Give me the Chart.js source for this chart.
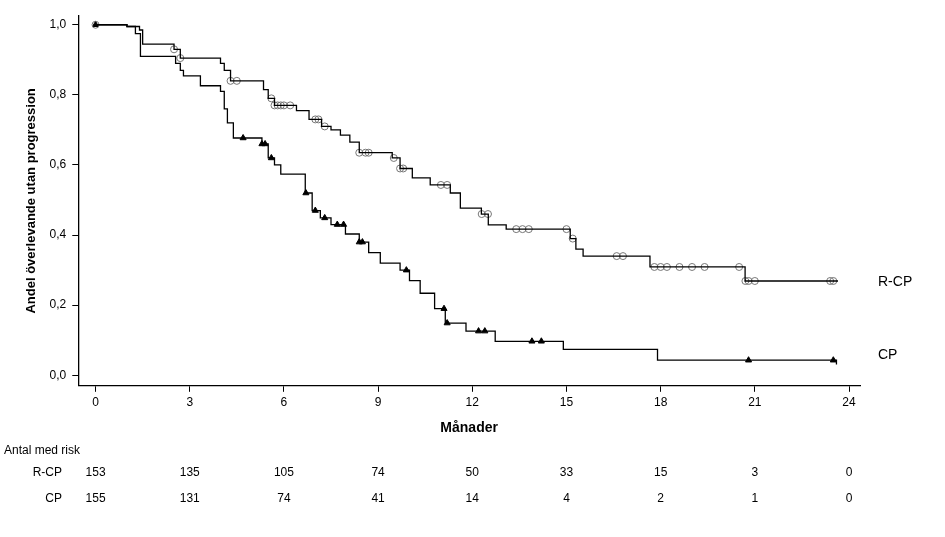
<!DOCTYPE html>
<html><head><meta charset="utf-8">
<script src="https://cdn.jsdelivr.net/npm/chart.js@4"></script>
<style>html,body{margin:0;padding:0;background:#fff}#w{width:945px;height:537px}</style>
</head><body><div id="w"><canvas id="c"></canvas></div>
<script>
const rcpTimes=[0,1.0,1.4,1.5,2.5,2.7,3.98,4.1,4.3,5.35,5.5,5.7,6.0,6.4,6.8,7.2,7.5,7.8,8.1,8.4,9.45,9.7,10.09,10.66,11.3,11.62,12.29,12.51,13.08,15.12,15.3,15.53,17.66,20.69,23.65];
const rcpSurv=[1.0,0.995,0.985,0.945,0.93,0.905,0.89,0.87,0.84,0.815,0.79,0.77,0.77,0.755,0.73,0.71,0.70,0.685,0.665,0.635,0.62,0.59,0.563,0.543,0.52,0.477,0.46,0.429,0.417,0.39,0.36,0.34,0.309,0.269,0.269];
const cpTimes=[0,1.0,1.27,1.43,2.55,2.7,2.8,3.34,3.98,4.1,4.2,4.39,5.3,5.5,5.7,5.9,6.68,6.9,7.16,7.5,7.96,8.4,8.7,9.07,9.7,10.0,10.34,10.8,11.14,11.8,12.73,14.9,17.9,23.6];
const cpSurv=[1.0,0.995,0.975,0.91,0.89,0.87,0.854,0.826,0.81,0.76,0.72,0.677,0.66,0.62,0.6,0.574,0.52,0.47,0.449,0.43,0.403,0.38,0.35,0.32,0.30,0.27,0.234,0.19,0.149,0.126,0.097,0.074,0.043,0.031];
const rcpCens=[0,2.5,2.7,4.3,4.5,5.6,5.7,5.8,5.9,6.0,6.2,7.0,7.1,7.3,8.4,8.6,8.7,9.5,9.7,9.8,11.0,11.2,12.3,12.5,13.4,13.6,13.8,15.0,15.2,16.6,16.8,17.8,18.0,18.2,18.6,19.0,19.4,20.5,20.7,20.8,21.0,23.4,23.5];
const cpCens=[0,4.7,5.3,5.4,5.6,6.7,7.0,7.3,7.7,7.9,8.4,8.5,9.9,11.1,11.2,12.2,12.4,13.9,14.2,20.8,23.5];
const xTicks=[0,3,6,9,12,15,18,21,24];
const riskRCP=[153,135,105,74,50,33,15,3,0];
const riskCP=[155,131,74,41,14,4,2,1,0];
const seriesNames=['R-CP','CP'];

function stepAt(ts,ss,t){let v=ss[0];for(let i=0;i<ts.length;i++){if(ts[i]<=t)v=ss[i];}return v;}
const pts=(ts,ss)=>ts.map((t,i)=>({x:t,y:ss[i]}));
const cens=(c,ts,ss)=>c.map(t=>({x:t,y:stepAt(ts,ss,t)}));

const extra={id:'extra',afterDraw(ch){
  const c=ch.ctx,xs=ch.scales.x,ys=ch.scales.y;
  c.save();c.fillStyle='#000';c.font='14px "Liberation Sans", Arial';c.textBaseline='middle';c.textAlign='left';
  c.fillText(seriesNames[0],878,ys.getPixelForValue(0.269)+1);
  c.fillText(seriesNames[1],878,ys.getPixelForValue(0.031)-9);
  c.font='12px "Liberation Sans", Arial';
  c.fillText('Antal med risk',4,451);
  c.textAlign='right';
  c.fillText(seriesNames[0],62,473);c.fillText(seriesNames[1],62,499);
  c.textAlign='center';
  xTicks.forEach((t,i)=>{const px=xs.getPixelForValue(t);c.fillText(String(riskRCP[i]),px,473);c.fillText(String(riskCP[i]),px,499);});
  c.restore();}};

new Chart(document.getElementById('c'),{
 type:'scatter',
 data:{datasets:[
  {data:pts(rcpTimes,rcpSurv),showLine:true,stepped:true,borderColor:'#000',borderWidth:1.3,pointRadius:0,fill:false},
  {data:pts(cpTimes,cpSurv),showLine:true,stepped:true,borderColor:'#000',borderWidth:1.3,pointRadius:0,fill:false},
  {data:cens(rcpCens,rcpTimes,rcpSurv),showLine:false,pointStyle:'circle',pointRadius:3.5,borderColor:'#777',borderWidth:1,backgroundColor:'rgba(0,0,0,0)'},
  {data:cens(cpCens,cpTimes,cpSurv),showLine:false,pointStyle:'triangle',pointRadius:3.5,borderColor:'#000',borderWidth:1,backgroundColor:'#000'}
 ]},
 options:{responsive:true,maintainAspectRatio:false,animation:false,
  layout:{padding:{left:20,right:85,top:16,bottom:96}},
  plugins:{legend:{display:false},tooltip:{enabled:false}},
  scales:{
   x:{type:'linear',min:-0.55,max:24.35,afterBuildTicks:a=>{a.ticks=xTicks.map(v=>({value:v}));},
      grid:{display:true,drawOnChartArea:false,drawTicks:true,tickLength:6,tickColor:'#000',color:'#000'},border:{color:'#000',width:1.3},
      ticks:{color:'#000',font:{size:12,family:'"Liberation Sans", Arial'},padding:4},
      title:{display:true,text:'Månader',color:'#000',font:{size:14,weight:'bold',family:'"Liberation Sans", Arial'},padding:{top:6}}},
   y:{min:-0.03,max:1.025,afterBuildTicks:a=>{a.ticks=[0,0.2,0.4,0.6,0.8,1.0].map(v=>({value:v}));},
      grid:{display:true,drawOnChartArea:false,drawTicks:true,tickLength:6,tickColor:'#000',color:'#000'},border:{color:'#000',width:1.3},
      ticks:{color:'#000',font:{size:12,family:'"Liberation Sans", Arial'},padding:6,callback:v=>v.toFixed(1).replace('.',',')},
      title:{display:true,text:'Andel överlevande utan progression',color:'#000',font:{size:13,weight:'bold',family:'"Liberation Sans", Arial'},padding:{bottom:4}}}
  }},
 plugins:[extra]});
</script></body></html>
